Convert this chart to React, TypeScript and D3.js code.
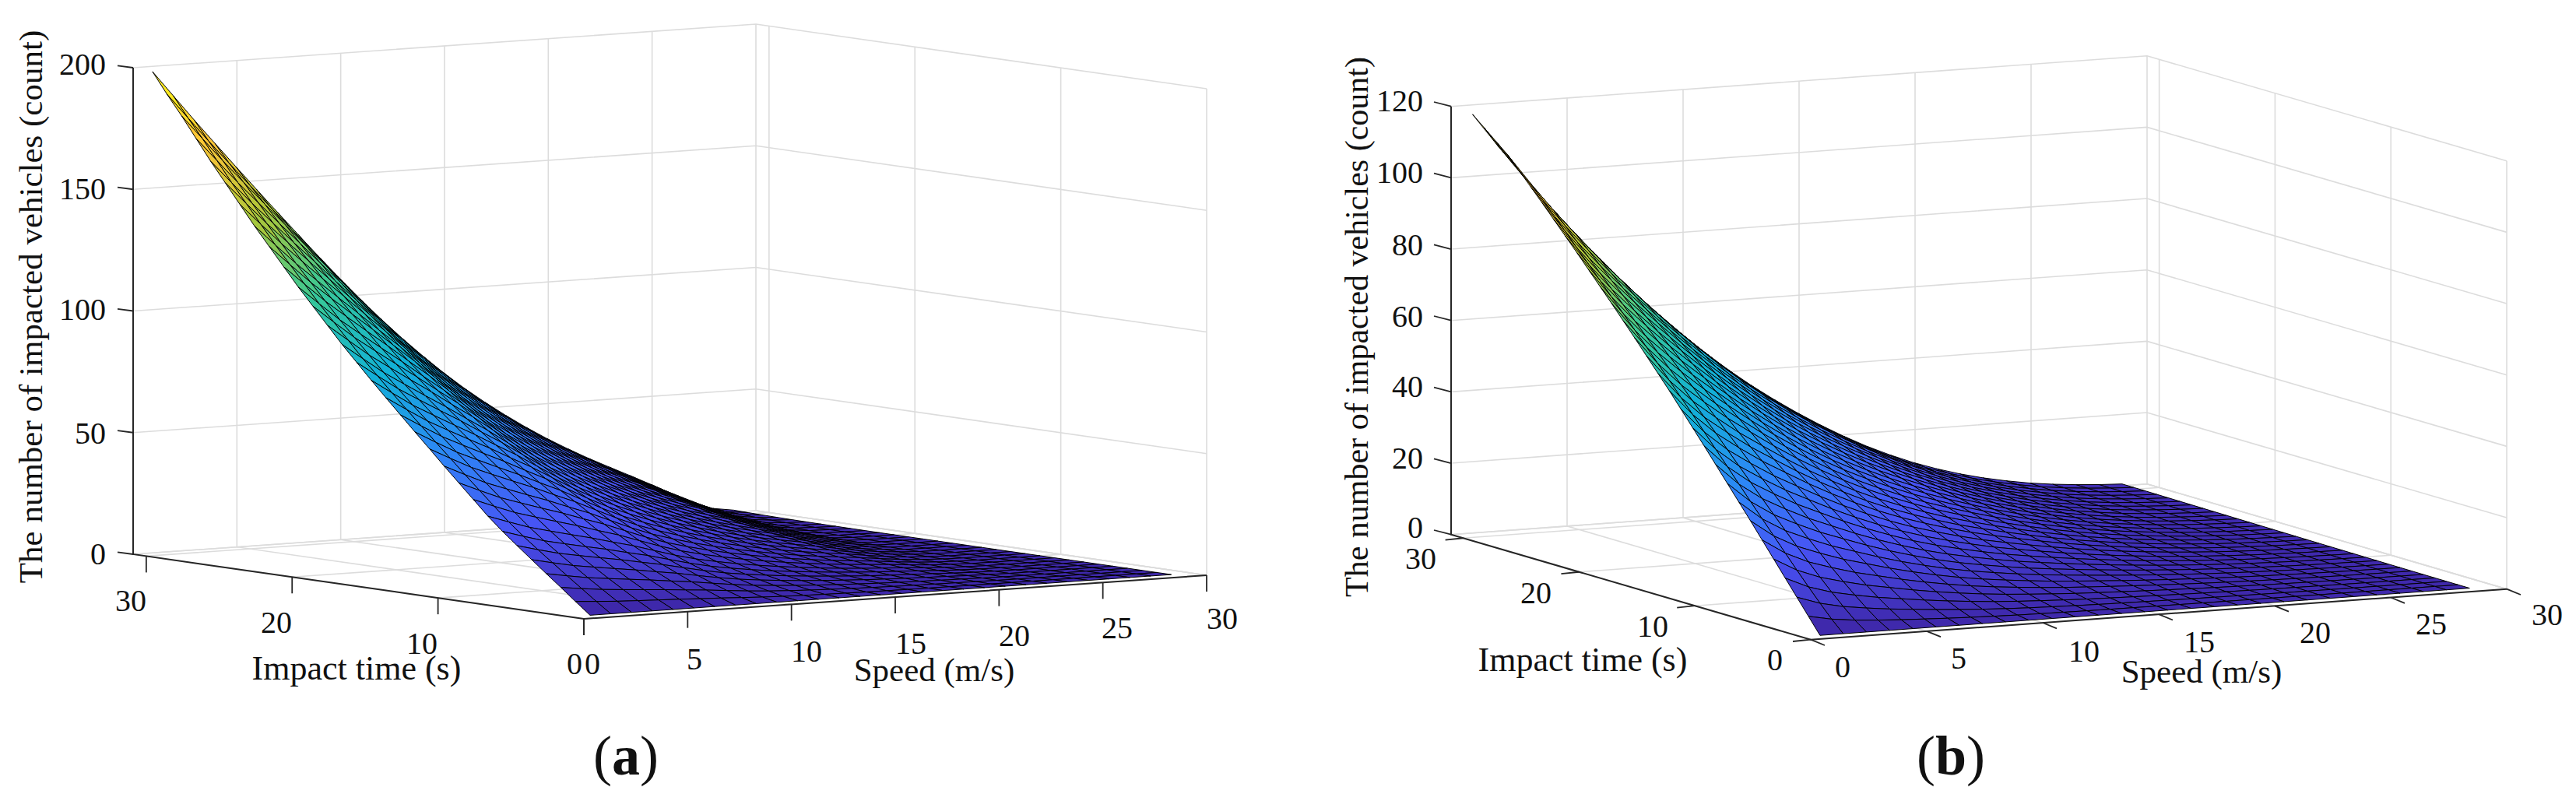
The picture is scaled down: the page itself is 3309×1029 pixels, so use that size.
import React from "react";
import * as d3 from "d3";

// Tick labels
const speedTicks = [0, 5, 10, 15, 20, 25, 30];
const timeTicks = [0, 10, 20, 30];
const zTicksA = [0, 50, 100, 150, 200];
const zTicksB = [0, 20, 40, 60, 80, 100, 120];

// Values read along the two readable edges of each surface (one per mesh line).
// The interior of the mesh cannot be read cell by cell: it is reconstructed from
// these edges, with riseA/riseB (estimated from the silhouette and the dense band)
// saying how late each speed column rises with time.
const edgeTimeA = [1.3,6.1,11,15.8,20.7,25.6,30.6,36,42,48,54,60.2,66.3,72.5,78.7,85,91.5,98,105,112,119,126.5,134,141.5,149.5,157.5,165.5,174,182.5,190.5,199];
const edgeSpeedA = [199,188.5,178,167.8,157.7,147.7,137.8,128,118.3,108.8,99.6,90.8,82.4,74.5,67,60,53.6,47.6,42,36.8,32,27.5,23.3,19.2,15,10.6,6.3,3.3,2];
const riseA = [1,1.02,1.04,1.05,1.06,1.07,1.09,1.11,1.15,1.2,1.25,1.29,1.33,1.37,1.41,1.45,1.5,1.55,1.6,1.65,1.72,1.9,2.2,2.6,3.2,5,6.5,6.5,6.5];
const edgeTimeB = [1,5.4,9.8,14.2,18.6,23,27.4,31.7,36,40.3,44.6,48.8,53,57.2,61.2,65.2,69.2,73.1,77,80.8,84.6,88.4,92.1,95.8,99.5,103.1,106.7,110.2,113,115.8,118.6];
const edgeSpeedB = [118.6,110,101.7,93.8,86.2,78.9,71.9,65.2,58.9,52.9,47.2,41.9,37,32.5,28.3,24.4,20.8,17.5,14.6,12,9.8,7.9,6.3,5,3.9,3.1,2.5,2.05,1.75];
const riseB = [1,1.08,1.14,1.18,1.22,1.25,1.29,1.33,1.37,1.41,1.44,1.46,1.48,1.5,1.5,1.5,1.5,1.5,1.5,1.5,1.5,1.5,1.5,1.5,1.5,1.5,1.5,1.5,1.5];
const parula = ["#3e26a8","#4852f4","#2d87f7","#12b1d6","#37c897","#abc739","#fec338","#f9fb15"];

const FONT = "'Liberation Serif', 'Times New Roman', serif";
const AXIS = "#262626";
const GRID = "#dcdcdc";

function Panel(p: any) {
  const tMax = p.tMax, sMax = 30;
  const px = (s: number, t: number) => p.front[0] + (s / sMax) * p.sVec[0] + (t / tMax) * p.tVec[0];
  const py = (s: number, t: number, z: number) => p.front[1] + (s / sMax) * p.sVec[1] + (t / tMax) * p.tVec[1] - (z / p.zMax) * p.zLen;
  const P = (s: number, t: number, z: number): [number, number] => [px(s, t), py(s, t, z)];
  const line = d3.line();
  const color = d3.scaleLinear<string>().domain(parula.map((_, i) => (i / (parula.length - 1)) * p.zMax)).range(parula).interpolate(d3.interpolateRgb);
  const base = p.edgeTime[0];
  const last = p.edgeTime.length - 1;
  const zAt = (i: number, j: number) =>
    base + (p.edgeSpeed[i] - base) * Math.pow((p.edgeTime[j] - base) / (p.edgeTime[last] - base), p.rise[i]);
  const ss = p.edgeSpeed.map((_: number, i: number) => p.s0 + i);
  const ts = p.edgeTime.map((_: number, j: number) => j);

  const grid: [number, number][][] = [];
  speedTicks.forEach((s) => grid.push([P(s, 0, 0), P(s, tMax, 0), P(s, tMax, p.zMax)]));
  timeTicks.forEach((t) => grid.push([P(0, t, 0), P(sMax, t, 0), P(sMax, t, p.zMax)]));
  p.zTicks.forEach((z: number) => grid.push([P(0, tMax, z), P(sMax, tMax, z), P(sMax, 0, z)]));
  grid.push([P(0, tMax, 0), P(sMax, tMax, 0), P(sMax, 0, 0)]);

  const faces: React.ReactNode[] = [];
  for (let j = ts.length - 2; j >= 0; j--) {
    for (let i = ss.length - 2; i >= 0; i--) {
      const pts = [
        P(ss[i], ts[j], zAt(i, j)),
        P(ss[i + 1], ts[j], zAt(i + 1, j)),
        P(ss[i + 1], ts[j + 1], zAt(i + 1, j + 1)),
        P(ss[i], ts[j + 1], zAt(i, j + 1)),
      ];
      faces.push(<path key={`${i}-${j}`} d={line(pts) + "Z"} fill={color(zAt(i, j))} stroke="#000" strokeWidth={1} strokeLinejoin="round" />);
    }
  }
  const tick = (a: [number, number], d: number[]) => <path d={line([a, [a[0] + d[0], a[1] + d[1]]])!} stroke={AXIS} strokeWidth={1.8} fill="none" />;
  return (
    <g fontFamily={FONT} fill="#111">
      {grid.map((g, k) => <path key={k} d={line(g)!} fill="none" stroke={GRID} strokeWidth={1.6} />)}
      <path d={line([P(0, tMax, p.zMax), P(0, tMax, 0), P(0, 0, 0), P(sMax, 0, 0)])!} fill="none" stroke={AXIS} strokeWidth={2} />
      {p.zTicks.map((z: number) => <g key={z}>{tick(P(0, tMax, z), p.zTickDir)}</g>)}
      {timeTicks.map((t) => <g key={t}>{tick(P(0, t, 0), p.tTickDir)}</g>)}
      {speedTicks.map((s) => <g key={s}>{tick(P(s, 0, 0), p.sTickDir)}</g>)}
      {faces}
      {p.zTicks.map((z: number, i: number) => <text key={z} x={p.zLabelX} y={p.zLabelY[i] + 13} textAnchor="end" fontSize={40}>{z}</text>)}
      {timeTicks.map((t, i) => <text key={t} x={p.tLabel[i][0]} y={p.tLabel[i][1] + 13} textAnchor="middle" fontSize={40}>{t}</text>)}
      {speedTicks.map((s, i) => <text key={s} x={p.sLabel[i][0]} y={p.sLabel[i][1] + 13} textAnchor="middle" fontSize={40}>{s}</text>)}
      <text transform={`translate(${p.yTitle[0]},${p.yTitle[1]}) rotate(-90)`} textAnchor="middle" fontSize={p.yTitleSize}>The number of impacted vehicles (count)</text>
      <text x={p.tTitle[0]} y={p.tTitle[1]} textAnchor="middle" fontSize={44}>Impact time (s)</text>
      <text x={p.sTitle[0]} y={p.sTitle[1]} textAnchor="middle" fontSize={43}>Speed (m/s)</text>
      <text x={p.caption[0]} y={p.caption[1]} textAnchor="middle" fontSize={72}>(<tspan fontWeight="bold">{p.letter}</tspan>)</text>
    </g>
  );
}

export default function App() {
  return (
    <svg width={3309} height={1029} style={{ position: "absolute", left: 0, top: 0, background: "#fff" }}>
      <Panel front={[750, 795]} sVec={[800, -56]} tVec={[-579, -83]} tMax={30.9} zMax={200} zLen={625} s0={0.3}
        edgeTime={edgeTimeA} edgeSpeed={edgeSpeedA} rise={riseA} zTicks={zTicksA}
        zTickDir={[-20, -2.7]} tTickDir={[0, 21]} sTickDir={[0, 21]}
        zLabelX={136} zLabelY={[712, 557, 398, 243, 83]}
        tLabel={[[738, 853], [542, 827], [355, 800], [168, 772]]}
        sLabel={[[761, 853], [892, 847], [1036, 837], [1170, 827], [1303, 817], [1435, 807], [1570, 795]]}
        yTitle={[54, 394]} yTitleSize={43} tTitle={[458, 873]} sTitle={[1200, 875]} caption={[804, 995]} letter="a" />
      <Panel front={[2326, 821.7]} sVec={[894, -65]} tVec={[-462, -135]} tMax={31.05} zMax={120} zLen={550} s0={0.4}
        edgeTime={edgeTimeB} edgeSpeed={edgeSpeedB} rise={riseB} zTicks={zTicksB}
        zTickDir={[-22, -5.7]} tTickDir={[-23, 2.3]} sTickDir={[18, 7.3]}
        zLabelX={1828} zLabelY={[678, 589, 497, 407, 315, 222, 130]}
        tLabel={[[2280, 848], [2123, 805], [1973, 762], [1825, 718]]}
        sLabel={[[2367, 857], [2516, 846], [2677, 837], [2825, 825], [2974, 813], [3123, 802], [3272, 790]]}
        yTitle={[1757, 420]} yTitleSize={42} tTitle={[2033, 862]} sTitle={[2828, 877]} caption={[2506, 995]} letter="b" />
    </svg>
  );
}
